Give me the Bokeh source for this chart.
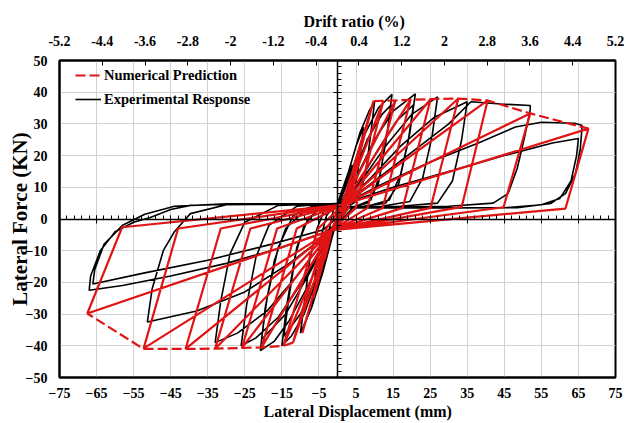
from bokeh.plotting import figure
from bokeh.models import (Range1d, LinearAxis, FixedTicker, Legend, LegendItem,
                          PrintfTickFormatter, Title)
from bokeh.embed import file_html
from bokeh.resources import INLINE

# ---------------- data ----------------
x_ticks = [-75, -65, -55, -45, -35, -25, -15, -5, 5, 15, 25, 35, 45, 55, 65, 75]
y_ticks = [-50, -40, -30, -20, -10, 0, 10, 20, 30, 40, 50]
drift_ticks = [-5.2, -4.4, -3.6, -2.8, -2, -1.2, -0.4, 0.4, 1.2, 2, 2.8, 3.6, 4.4, 5.2]

# Numerical prediction: cyclic path (solid red)
num_x = [0, 3.5, 1.5, -1.5, -3.5, -1.5, 1.5,
         6.5, 3.0, -1.5, -6.5, -3.0, 1.5,
         9.7, 2.2, -1.5, -9.5, -1.5, 1.5,
         12.4, 4.9, -1.5, -12.0, -3.0, 1.5,
         15.6, 8.1, -1.5, -14.6, -5.2, 1.5,
         19.7, 12.2, -1.5, -20.5, -11.0, 1.5,
         25.1, 17.6, -1.5, -25.8, -16.3, 1.5,
         32.6, 25.1, -1.5, -33.0, -23.5, 1.5,
         40.5, 33.5, -1.5, -41.0, -31.5, 1.5,
         52.0, 44.8, -1.5, -52.3, -43.0, 1.5,
         67.7, 61.5, -1.5, -67.5, -58.1, 1.5]
num_y = [0, 13, 3.0, -3.5, -13, -3.0, 4.5,
         25, 3.5, -3.5, -25, -3.0, 4.5,
         37.2, 3.5, -3.5, -36, -3.0, 4.5,
         37.3, 3.5, -3.5, -39, -3.0, 4.5,
         37.4, 3.5, -3.5, -40, -3.0, 4.5,
         37.6, 3.5, -3.5, -40.5, -3.0, 4.5,
         37.8, 3.5, -3.5, -40.7, -3.0, 4.5,
         38.0, 3.5, -3.5, -40.9, -3.0, 4.5,
         37.4, 3.8, -3.5, -41.0, -3.0, 4.5,
         33.3, 3.7, -3.5, -40.8, -3.0, 4.5,
         28.5, 3.3, -3.5, -29.8, -2.6, 4.5]

# Numerical prediction: envelope (dashed red)
env_pos_x = [9.7, 12.4, 15.6, 19.7, 25.1, 32.6, 40.5, 52.0, 67.7]
env_pos_y = [37.2, 37.3, 37.4, 37.6, 37.8, 38.0, 37.4, 33.3, 28.5]
env_neg_x = [-12.0, -14.6, -20.5, -25.8, -33.0, -41.0, -52.3, -67.5]
env_neg_y = [-39.0, -40.0, -40.5, -40.7, -40.9, -41.0, -41.0, -29.8]

# Experimental response: loops (black)
exp_loops_x = [
    [0, 0, 2, 4, 3, 2, 0.5, -1, -2.5, -4, -3, -2, -1],
    [0, 2.5, 5, 7, 6, 4.5, 3, 0.5, -1.5, -4, -7, -6, -4.5, -3, -1],
    [0, 3, 6, 8.5, 10, 9, 7.5, 5.5, 3, 0.5, -1.5, -4, -7, -10, -9, -7.5, -5.5, -3.5, -1],
    [0.5, 3.5, 7, 11, 14.7, 13.5, 11.5, 9, 5, 1, -1.5, -5, -9, -12.5, -15, -13.8, -11.5, -9, -5, -1],
    [1, 4, 8, 12, 14.5, 13, 11, 8, 4, 0.5, -2, -6, -10, -14.5, -13, -11, -8, -4, -1],
    [1, 5, 10, 15, 21, 19.5, 17, 14, 8, 2, -2, -7, -13, -17, -20.8, -19.5, -17, -14, -8, -1.5],
    [1.5, 6, 11, 16, 20.5, 19, 16.5, 13, 7, 2, -2.5, -8, -14, -20.5, -19, -16, -12, -6, -1.5],
    [1.5, 7, 13, 20, 27, 25.5, 23, 19.5, 12, 3, -2.5, -9, -16, -22, -26, -24.5, -22, -18.5, -11, -2],
    [2, 9, 17, 26, 35, 33.5, 31, 27, 17, 4, -3, -11, -19, -27, -33, -31.5, -29, -25, -16, -2],
    [2, 10, 20, 30, 36, 44, 52, 52, 50.5, 48.5, 46, 42, 30, 5, -3, -13, -25, -38, -51.3,
     -50, -47, -44, -39.7, -30, -2],
    [2, 12, 25, 38, 48, 55, 64, 66, 65.5, 64.2, 61.5, 57.5, 48.5, 30, 5, -3, -15, -30, -45,
     -58, -67, -66.6, -64, -60, -55, -50.5, -45, -39.7, -25, -2],
    [2, 15, 30, 45, 58, 65, 64.5, 63, 60, 55, 45, 20, 3, -4, -18, -35, -52, -66, -65.5, -63,
     -58, -52, -44, -30, -2],
]
exp_loops_y = [
    [0, 4, 10, 17, 9, 4, 2, -3, -10, -16, -8, -2, 3.5],
    [5, 13, 23, 29, 19, 8, 4, 2.5, -6, -17, -28, -18, -6, 1, 4],
    [5, 15, 27, 34, 37, 27, 14, 6, 4, 3, -5, -16, -28, -36, -27, -13, -3, 3, 4.5],
    [5, 14, 26, 35, 39.3, 28, 14, 6, 4, 3.5, -5, -17, -30, -37, -40, -28, -12, -2, 3.5, 4.8],
    [5, 13, 25, 33, 36, 24, 11, 5, 3.8, 3, -6, -19, -30, -37, -24, -9, 0, 4, 4.8],
    [5, 13, 25, 34, 39.5, 27, 14, 6, 4, 3.5, -6, -19, -32, -38.5, -41.5, -28, -13, -3, 3.5, 4.8],
    [5, 12, 22, 31, 36, 24, 11, 5, 4, 3.5, -6, -18, -30, -38, -25, -9, 1, 4.5, 4.8],
    [5, 13, 23, 33, 38.5, 26, 13, 5.5, 4, 3.5, -6, -19, -31, -37.5, -40, -27, -12, -2, 4, 4.8],
    [5, 13, 23, 32, 37, 25, 12, 5, 4, 3.5, -6, -18, -29, -36, -39, -26, -11, -1, 4.3, 4.8],
    [5, 12, 21, 30, 37, 36.3, 35.8, 34.5, 26, 16, 8, 5, 4, 3.5, -5, -14, -23, -29, -32.5,
     -22, -10, -4, 1.7, 4.5, 4.8],
    [5, 11, 18, 24, 29, 30.5, 30.2, 29.5, 22, 14.3, 8, 4.9, 3.6, 3.5, 3.5, -4, -9, -14, -18,
     -21, -22.5, -18, -10, -4, -1, 0.5, 3, 4.3, 4.8, 4.8],
    [5, 10, 15, 20, 24, 25.4, 20, 12, 6.5, 4.5, 3.5, 3.5, 3.5, -3.5, -8, -13, -17, -20.5, -16,
     -8, -2, 1.5, 4, 4.8, 4.8],
]

exp_x = [v for loop in exp_loops_x for v in loop]
exp_y = [v for loop in exp_loops_y for v in loop]

# ---------------- figure ----------------
SERIF = "Liberation Serif"
RED = "#e01414"

p = figure(width=626, height=423, output_backend="svg", toolbar_location=None,
           x_range=Range1d(-75, 75), y_range=Range1d(-50, 50),
           min_border_left=59, min_border_right=11, min_border_top=60, min_border_bottom=46,
           background_fill_color="white", border_fill_color="white")

p.outline_line_color = "black"
p.outline_line_width = 2
p.outline_line_alpha = 1

# bottom axis
xa = p.xaxis[0]
xa.ticker = FixedTicker(ticks=x_ticks)
# left axis
ya = p.yaxis[0]
ya.ticker = FixedTicker(ticks=y_ticks)
ya.axis_label = "Lateral Force (KN)"

# top axis (drift ratio)
p.extra_x_ranges = {"drift": Range1d(-5.2, 5.2)}
ta = LinearAxis(x_range_name="drift", ticker=FixedTicker(ticks=drift_ticks),
                formatter=PrintfTickFormatter(format="%g"))
p.add_layout(ta, "above")

for ax in (xa, ya, ta):
    ax.axis_label_text_font = SERIF
    ax.axis_label_text_font_style = "bold"
    ax.axis_label_text_font_size = "21px"
    ax.axis_label_text_color = "black"
    ax.major_label_text_font = SERIF
    ax.major_label_text_font_style = "bold"
    ax.major_label_text_font_size = "14px"
    ax.major_label_text_color = "black"
    ax.minor_tick_line_color = None
    ax.axis_line_color = "black"
    ax.axis_line_width = 2
    ax.major_tick_out = 0
    ax.major_tick_in = 0

ta.major_tick_in = 5
ta.major_tick_line_color = "black"
ta.major_tick_line_width = 1
ta.major_label_standoff = 15
xa.major_label_standoff = 10
ya.major_label_standoff = 12
ya.axis_label_standoff = -9

# axis titles for the horizontal axes (offset to the right like the reference)
t_top = Title(text="Drift ratio (%)", align="left", offset=244, standoff=6,
              text_font=SERIF, text_font_style="bold", text_font_size="16px",
              text_color="black")
p.add_layout(t_top, "above")
t_bot = Title(text="Lateral Displacement (mm)", align="left", offset=204, standoff=0,
              text_font=SERIF, text_font_style="bold", text_font_size="16px",
              text_color="black")
p.add_layout(t_bot, "below")

# grid
p.xgrid.ticker = FixedTicker(ticks=x_ticks)
p.ygrid.ticker = FixedTicker(ticks=y_ticks)
p.grid.grid_line_color = "#d2d2d2"
p.grid.grid_line_width = 1

# axes through the origin
zx = LinearAxis(fixed_location=0,
                ticker=FixedTicker(ticks=x_ticks, minor_ticks=list(range(-75, 76, 2))))
zy = LinearAxis(fixed_location=0,
                ticker=FixedTicker(ticks=y_ticks, minor_ticks=list(range(-50, 51, 2))))
for ax in (zx, zy):
    ax.axis_line_color = "black"
    ax.axis_line_width = 1.5
    ax.major_tick_in = 4
    ax.major_tick_out = 4
    ax.minor_tick_in = 4
    ax.minor_tick_out = 0
    ax.major_tick_line_color = "black"
    ax.minor_tick_line_color = "black"
    ax.major_label_text_font_size = "0px"
    ax.major_label_text_alpha = 0
p.add_layout(zx, "below")
p.add_layout(zy, "left")

# data
r_exp = p.line(exp_x, exp_y, line_color="black", line_width=1.6)
p.line(num_x, num_y, line_color=RED, line_width=2.2)
r_env = p.line(env_pos_x, env_pos_y, line_color=RED, line_width=2.2, line_dash="10 4")
p.line(env_neg_x, env_neg_y, line_color=RED, line_width=2.2, line_dash="10 4")

legend = Legend(items=[LegendItem(label="Numerical Prediction", renderers=[r_env]),
                       LegendItem(label="Experimental Response", renderers=[r_exp])],
                location=(16, 268), orientation="vertical")
legend.border_line_color = None
legend.background_fill_alpha = 0
legend.padding = 0
legend.margin = 0
legend.spacing = 4
legend.glyph_width = 26
legend.glyph_height = 20
legend.label_height = 20
legend.label_standoff = 3
legend.label_text_font = SERIF
legend.label_text_font_style = "bold"
legend.label_text_font_size = "14.5px"
legend.label_text_color = "black"
p.add_layout(legend, "center")

open("out.html", "w").write(file_html(p, INLINE))
